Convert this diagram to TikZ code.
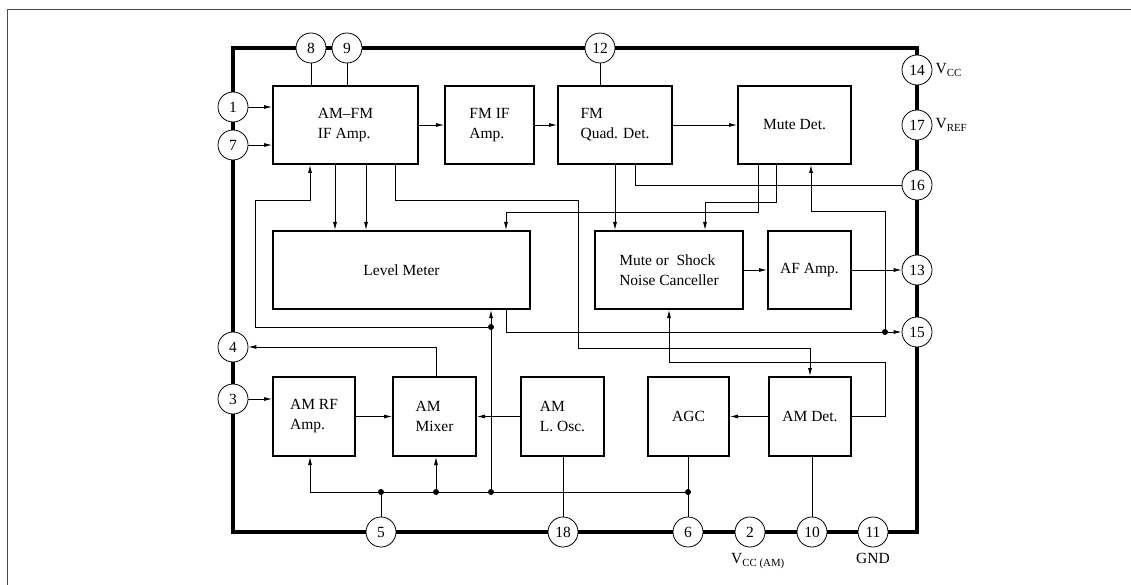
\documentclass[tikz,border=0pt]{standalone}
\usepackage{fontspec}
\setmainfont{Liberation Serif}
\usetikzlibrary{arrows.meta,positioning}

\begin{document}
\begin{tikzpicture}[x=1pt,y=-1pt,
  blk/.style={draw, line width=2pt, minimum height=78pt, inner sep=0pt, align=left, font=\fontsize{15.5}{20}\selectfont},
  pin/.style={draw, circle, fill=white, line width=0.8pt, minimum size=30pt, inner sep=0pt, font=\fontsize{15.5}{18}\selectfont},
  dot/.style={circle, fill, minimum size=6pt, inner sep=0pt},
  conn/.style={line width=0.8pt},
  arr/.style={conn, -{Latex[length=8pt,width=4pt]}},
  lbl/.style={inner sep=0pt, font=\fontsize{15.5}{18}\selectfont}]
\useasboundingbox (0,0) rectangle (1131,585);
\draw[black!70, line width=1pt] (7,585) -- (7,10) -- (1131,10);
\draw[line width=3.5pt] (233,48) rectangle (917,532);
\node[blk, minimum width=145pt] (amfm) at (345.5,125) {AM--FM\\IF Amp.};
\node[blk, minimum width=89pt] (fmif) at (489.5,125) {FM IF\\Amp.};
\node[blk, minimum width=114pt] (quad) at (615,125) {FM\\Quad. Det.};
\node[blk, minimum width=113pt] (mutedet) at (794.5,125) {Mute Det.};
\node[blk, minimum width=257pt] (level) at (401.5,270) {Level Meter};
\node[blk, minimum width=148pt] (cancel) at (669,270) {Mute or~ Shock\\Noise Canceller};
\node[blk, minimum width=83pt] (afamp) at (809.5,270) {AF Amp.};
\node[blk, minimum width=82pt, minimum height=79pt] (rfamp) at (314,416.5) {AM RF\\Amp.};
\node[blk, minimum width=83pt, minimum height=79pt] (mixer) at (434.5,416.5) {AM\\Mixer};
\node[blk, minimum width=83pt, minimum height=79pt] (losc) at (562.5,416.5) {AM\\L. Osc.};
\node[blk, minimum width=81pt, minimum height=79pt] (agc) at (688.5,416.5) {AGC};
\node[blk, minimum width=82pt, minimum height=79pt] (amdet) at (810,416.5) {AM Det.};
\node[pin] (p8) at (311,48) {8};
\node[pin] (p9) at (347,48) {9};
\node[pin] (p12) at (600,48) {12};
\node[pin] (p1) at (233,107) {1};
\node[pin] (p7) at (233,145) {7};
\node[pin] (p4) at (233,347) {4};
\node[pin] (p3) at (233,399) {3};
\node[pin] (p14) at (917,70) {14};
\node[pin] (p17) at (917,125) {17};
\node[pin] (p16) at (917,185) {16};
\node[pin] (p13) at (917,270) {13};
\node[pin] (p15) at (917,332) {15};
\node[pin] (p5) at (381,532) {5};
\node[pin] (p18) at (563,532) {18};
\node[pin] (p6) at (688,532) {6};
\node[pin] (p2) at (750,532) {2};
\node[pin] (p10) at (812,532) {10};
\node[pin] (p11) at (873,532) {11};
\node[lbl, right=3pt of p14] (vcc) {V\textsubscript{CC}};
\node[lbl, right=3pt of p17] (vref) {V\textsubscript{REF}};
\node[lbl, below=6pt of p2, xshift=8pt] (vccam) {V\textsubscript{CC (AM)}};
\node[lbl, below=6pt of p11] (gnd) {GND};
\node[dot] (d5) at (381,492) {};
\node[dot] (d2) at (436,492) {};
\node[dot] (d3) at (491,492) {};
\node[dot] (d6) at (688,492) {};
\node[dot] (d4) at (491,327) {};
\node[dot] (d15) at (885,332) {};
\draw[conn] (p8) -- (amfm.north -| p8);
\draw[conn] (p9) -- (amfm.north -| p9);
\draw[conn] (p12) -- (quad.north -| p12);
\draw[arr] (p1) -- (amfm.west |- p1);
\draw[arr] (p7) -- (amfm.west |- p7);
\draw[arr] (amfm) -- (fmif);
\draw[arr] (fmif) -- (quad);
\draw[arr] (quad) -- (mutedet);
\draw[arr] ([xshift=63]amfm.south west) -- ([xshift=63]level.north west);
\draw[arr] ([xshift=94]amfm.south west) -- ([xshift=94]level.north west);
\draw[arr] ([xshift=123]amfm.south west) |- (578,200) -- (578,348) -| (amdet.north);
\draw[arr] (d4) -| (255,200) -| ([xshift=38]amfm.south west);
\draw[conn] ([xshift=78]quad.south west) |- (p16);
\draw[arr] (quad.south) -- (quad.south |- cancel.north);
\draw[arr] ([xshift=21]mutedet.south west) -- ++(0,47) -| ([xshift=234]level.north west);
\draw[arr] ([xshift=39]mutedet.south west) -- ++(0,37) -| ([xshift=111]cancel.north west);
\draw[arr] (cancel) -- (afamp);
\draw[arr] (afamp) -- (p13);
\draw[arr] ([xshift=234]level.south west) |- (p15);
\draw[arr] (d15) -- (885,211) -| ([xshift=74]mutedet.south west);
\draw[arr] (d3) -- (level.south -| d3);
\draw[conn] (p5) -- (d5);
\draw[conn] (agc.south -| p6) -- (p6);
\draw[arr] (d6) -| ([xshift=38]rfamp.south west);
\draw[arr] (d2) -- (mixer.south -| d2);
\draw[arr] (p3) -- (rfamp.west |- p3);
\draw[arr] (rfamp) -- (mixer);
\draw[arr] (losc) -- (mixer);
\draw[arr] (mixer.north -| d2) |- (p4);
\draw[arr] (amdet) -- (agc);
\draw[arr] (amdet.east) -| (885,362) -| (cancel.south);
\draw[conn] (losc.south -| p18) -- (p18);
\draw[conn] (amdet.south -| p10) -- (p10);
\end{tikzpicture}
\end{document}
